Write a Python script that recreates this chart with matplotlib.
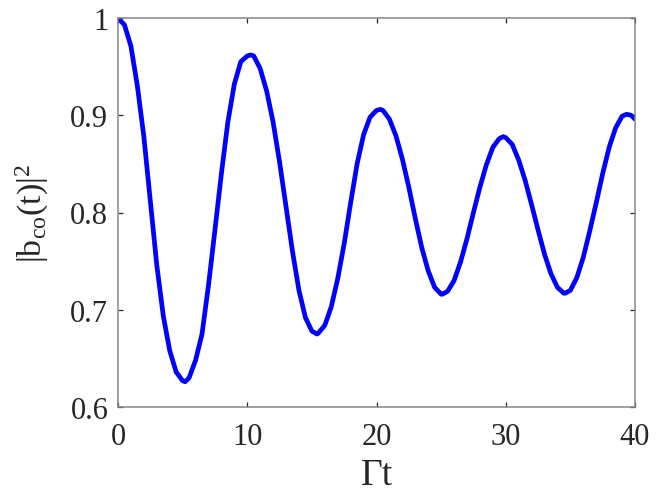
import matplotlib
matplotlib.use("Agg")
import matplotlib.pyplot as plt

# Values
t_vals = [0.0, 0.5, 1.0, 1.5, 2.0, 2.5, 3.0, 3.5, 4.0, 4.5, 5.0, 5.2, 5.5,
          6.0, 6.5, 7.0, 7.5, 8.0, 8.5, 9.0, 9.5, 10.0, 10.3, 10.5,
          11.0, 11.5, 12.0, 12.5, 13.0, 13.5, 14.0, 14.5, 15.0, 15.4, 15.5,
          16.0, 16.5, 17.0, 17.5, 18.0, 18.5, 19.0, 19.5, 20.0, 20.3, 20.5,
          21.0, 21.5, 22.0, 22.5, 23.0, 23.5, 24.0, 24.5, 25.0, 25.1, 25.5,
          26.0, 26.5, 27.0, 27.5, 28.0, 28.5, 29.0, 29.5, 29.8, 30.0,
          30.5, 31.0, 31.5, 32.0, 32.5, 33.0, 33.5, 34.0, 34.5, 34.6, 35.0,
          35.5, 36.0, 36.5, 37.0, 37.5, 38.0, 38.5, 39.0, 39.35, 39.7, 40.0]
b_vals = [1.000, 0.993, 0.971, 0.930, 0.878, 0.812, 0.746, 0.694, 0.658, 0.636, 0.627, 0.626, 0.630,
          0.648, 0.675, 0.725, 0.782, 0.840, 0.893, 0.932, 0.955, 0.961, 0.962, 0.961,
          0.948, 0.925, 0.893, 0.852, 0.806, 0.760, 0.720, 0.692, 0.678, 0.675, 0.676,
          0.684, 0.703, 0.732, 0.768, 0.810, 0.850, 0.880, 0.898, 0.905, 0.906, 0.905,
          0.896, 0.879, 0.855, 0.826, 0.794, 0.764, 0.740, 0.723, 0.716, 0.716, 0.719,
          0.730, 0.749, 0.773, 0.800, 0.826, 0.849, 0.867, 0.876, 0.878, 0.877,
          0.870, 0.854, 0.833, 0.808, 0.782, 0.757, 0.737, 0.723, 0.717, 0.717, 0.720,
          0.733, 0.754, 0.781, 0.810, 0.840, 0.867, 0.887, 0.899, 0.901, 0.900, 0.896]

x_ticks = [0, 10, 20, 30, 40]
x_ticklabels = ["0", "10", "20", "30", "40"]
y_ticks = [0.6, 0.7, 0.8, 0.9, 1.0]
y_ticklabels = ["0.6", "0.7", "0.8", "0.9", "1"]

plt.rcParams["font.family"] = ["Liberation Serif", "DejaVu Serif"]
plt.rcParams["mathtext.fontset"] = "custom"
plt.rcParams["mathtext.rm"] = "Liberation Serif"
plt.rcParams["mathtext.it"] = "Liberation Serif"

fig = plt.figure(figsize=(6.61, 5.02), dpi=100)
ax = fig.add_axes([118 / 661, 1 - 408 / 502, (635 - 118) / 661, (408 - 19) / 502])

ax.plot(t_vals, b_vals, color="#0000ff", linewidth=3.4,
        solid_capstyle="round", solid_joinstyle="round")

ax.set_xlim(0, 40)
ax.set_ylim(0.6, 1.0)
ax.set_xticks(x_ticks)
ax.set_xticklabels(x_ticklabels)
ax.set_yticks(y_ticks)
ax.set_yticklabels(y_ticklabels)

ax.tick_params(direction="in", length=3.8, width=0.9, colors="#262626",
               labelsize=22, top=True, right=True)
ax.tick_params(axis="x", pad=10.5)
ax.tick_params(axis="y", pad=7)
for sp in ax.spines.values():
    sp.set_color("#868686")
    sp.set_linewidth(1.1)

ax.set_xlabel("Γt", fontsize=27, color="#262626", labelpad=5)
ax.set_ylabel(r"$\mathrm{|b_{co}(t)|^2}$", fontsize=24.5, color="#262626", labelpad=14)

fig.savefig("out.png", dpi=100)
